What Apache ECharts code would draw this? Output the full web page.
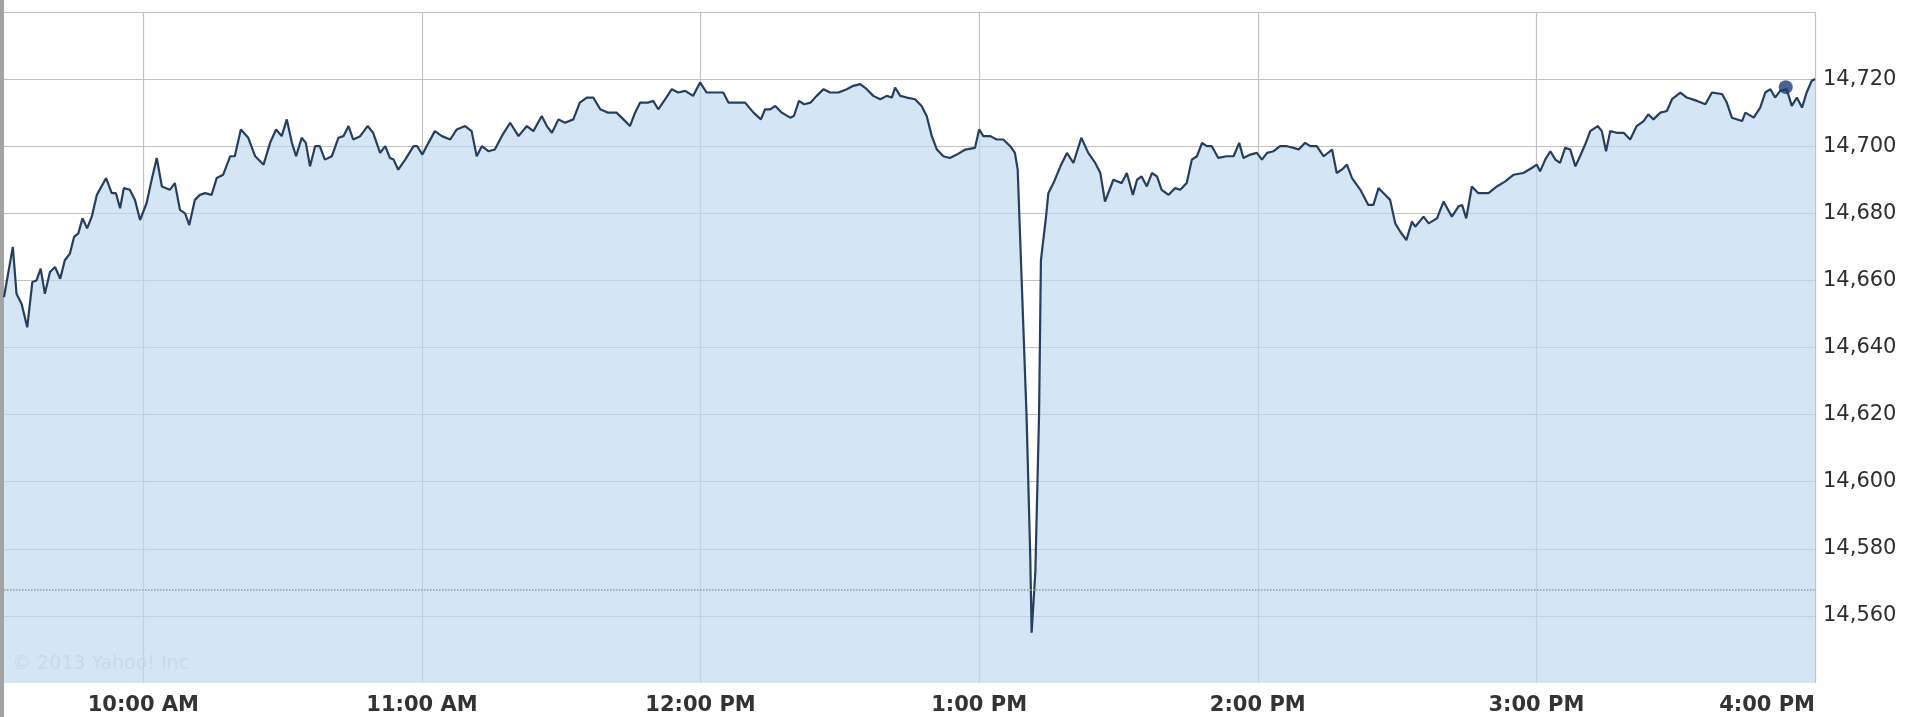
<!DOCTYPE html>
<html>
<head>
<meta charset="utf-8">
<script src="https://cdn.jsdelivr.net/npm/echarts@6/dist/echarts.min.js"></script>
<style>
html,body{margin:0;padding:0;background:#fff;}
#chart{width:1906px;height:717px;}
</style>
</head>
<body>
<div id="chart"></div>
<script>
// minutes after 9:30 AM
const minutes = [
0,1.9,2.7,3.8,5,6.1,7,7.9,8.8,9.9,11,12.1,13.1,14.2,15.1,16,16.9,17.9,18.9,20,
22,23.2,24.1,25,25.8,27.1,28.2,29.3,30.7,31.8,32.9,34,35.7,36.8,37.9,39,39.9,41.1,42.2,43.3,
44.7,45.8,47.2,48.7,49.7,51,52.6,54.1,55.9,57.3,58.6,59.8,60.9,62,62.9,64.1,65,65.9,67,68,
69.1,70.6,72,73.1,74.2,75.2,76.7,78.3,79.5,81,82.1,83.1,83.9,84.9,86.4,88.2,89,90.1,91.4,92.8,
94.3,96.1,97.5,99.3,100.7,101.8,102.9,104.3,105.7,107.2,109,110.8,112.6,114,115.8,116.9,118,119.4,120.8,122.6,
124,125.5,126.9,128.4,130.1,131.9,133.4,134.8,135.9,137,138.8,139.8,140.9,142.4,143.8,145.2,146.7,148.4,149.9,151.3,
153.1,154.9,156,157.8,159.6,161.4,163,163.9,165,166.1,167.5,169.3,170.1,171.2,172.3,173.7,175,176.5,177.9,179.7,
181.5,182.9,184.4,185.8,187.2,188.7,190.1,191.2,191.9,193,194.4,196.2,197.6,198.7,199.8,200.9,202.3,203.7,205.2,207,
209.1,210,210.9,212.4,213.8,215.2,216.7,217.7,218.3,219,220.2,221,221.3,222.1,222.9,223.3,224.4,224.9,226,227.5,
228.9,230.3,232,233.5,235,236.1,237.1,238.9,240.7,241.8,243.1,244,245,246.1,247.2,248.3,249.3,250.8,252.2,253.3,
254.7,255.8,256.9,258,259,260.1,261.5,263.3,264.8,266,266.9,268.4,269.8,270.9,272,273.4,274.8,276.3,277.7,278.8,
280.2,281.3,282.7,284.2,286,287,288.1,289.2,290.3,292.1,293.8,294.9,296,297.1,298.5,299.6,300.7,302,303.2,303.9,
305.7,306.8,308.6,310,311.8,313.2,314,314.9,316.1,317.5,319.7,321.5,323.3,325.1,327.2,329,330.1,330.8,331.9,333,
334.1,335.1,336.2,337.3,338.4,339.4,340.5,341.6,343.2,344.1,345,345.9,347.3,348.8,350.2,351.6,353.1,354.1,355.2,356.7,
358.1,359.2,361,362.4,364.6,366.4,367.8,370,371,372.1,374.3,375,376.8,378.2,379.3,380.4,381.4,382.5,383.9,385,
386.1,387.2,388.2,389.3,390
];
const prices = [
14655,14670,14656,14653,14646,14659.5,14660,14663.5,14656,14662.5,14664,14660.5,14666,14668,14673,14674,14678.5,14675.5,14679,14685.5,
14690.5,14686,14686,14681.5,14687.5,14687,14684,14678,14683,14690,14696.5,14688,14687,14689,14681,14680,14676.5,14684,14685.5,14686,
14685.5,14690.5,14691.5,14697,14697,14705,14702.5,14697,14694.5,14701,14705,14703,14708,14701,14697,14702.5,14701,14694,14700,14700,
14696,14697,14702.5,14703,14706,14702,14703,14706,14704,14698,14700,14696.5,14696,14693,14696,14700,14700,14697.5,14701,14704.5,
14703,14702,14705,14706,14704.5,14697,14700,14698.5,14699,14703,14707,14703,14706,14704.5,14709,14706,14704,14708,14707,14708,
14713,14714.5,14714.5,14711,14710,14710,14708,14706,14710,14713,14713,14713.5,14711,14714,14717,14716,14716.5,14715,14719,14716,
14716,14716,14713,14713,14713,14710,14708,14711,14711,14712,14710,14708.5,14709,14713.5,14712.5,14713,14715,14717,14716,14716,
14717,14718,14718.5,14717,14715,14714,14715,14714.5,14717.5,14715,14714.5,14714,14712,14709,14703,14699,14697,14696.5,14697.5,14699,
14699.5,14705,14703,14703,14702,14702,14700,14698,14693,14666,14620,14578,14555,14573,14620,14666,14679,14686,14689,14694,
14698,14695,14702.5,14698,14695,14692,14683.5,14690,14689,14692,14685.5,14690,14691,14688,14692,14691,14687,14685.5,14687.5,14687,
14689,14696,14697,14701,14700,14700,14696.5,14697,14697,14701,14696.5,14697.5,14698,14696,14698,14698.5,14700,14700,14699.5,14699,
14701,14700,14700,14697,14699,14692,14693,14694.5,14690.5,14687,14682.5,14682.5,14687.5,14686,14684,14677,14674.5,14672,14677.5,14676,
14679,14677,14678.5,14683.5,14679,14682,14682.5,14678.5,14688,14686,14686,14688,14689.5,14691.5,14692,14693.5,14694.5,14692.5,14696,14698.5,
14696,14695,14699.5,14699,14694,14697,14700.5,14704.5,14706,14704.5,14698.5,14704.5,14704,14704,14702,14706,14707.5,14709.5,14708,14710,
14710.5,14714,14716,14714.5,14713.5,14712.5,14716,14715.5,14713,14708.5,14707.5,14710,14708.5,14711.5,14716,14717,14714.5,14716.5,14717,14712,
14714.5,14711.5,14716,14719.5,14720
];
const previousClose = 14567.8;
const markerPoint = [383.7, 14717.6];
const xTickMinutes = [30, 90, 150, 210, 270, 330, 390];
const xTickLabels = ['10:00 AM', '11:00 AM', '12:00 PM', '1:00 PM', '2:00 PM', '3:00 PM', '4:00 PM'];
const yMin = 14540, yMax = 14740, yStep = 20;
const yLabelMin = 14560, yLabelMax = 14720;

const chart = echarts.init(document.getElementById('chart'), null, {renderer: 'canvas'});
const seriesData = minutes.map((m, i) => [m, prices[i]]);

chart.setOption({
  animation: false,
  backgroundColor: '#ffffff',
  grid: {left: 4, right: 91, top: 12, bottom: 34, containLabel: false},
  xAxis: {
    type: 'value', min: 0, max: 390,
    axisLine: {show: false},
    axisTick: {show: false, customValues: xTickMinutes},
    axisLabel: {
      customValues: xTickMinutes,
      formatter: v => xTickLabels[xTickMinutes.indexOf(v)] || '',
      fontFamily: 'DejaVu Sans', fontSize: 21, fontWeight: 'bold', color: '#333',
      margin: 12, alignMaxLabel: 'right'
    },
    splitLine: {show: true, lineStyle: {color: '#c2c2c2', width: 1.2}}
  },
  yAxis: {
    type: 'value', position: 'right', min: yMin, max: yMax, interval: yStep,
    axisLine: {show: false}, axisTick: {show: false},
    axisLabel: {
      formatter: v => (v < yLabelMin || v > yLabelMax) ? '' : v.toLocaleString('en-US'),
      fontFamily: 'DejaVu Sans', fontSize: 21, color: '#2e2e2e', margin: 8
    },
    splitLine: {show: true, showMinLine: false, lineStyle: {color: '#c2c2c2', width: 1.2}}
  },
  series: [
    {
      type: 'line', data: seriesData, showSymbol: false, smooth: false,
      lineStyle: {color: '#253f60', width: 2.2},
      areaStyle: {color: 'rgba(192,217,238,0.68)', opacity: 1, origin: 'start'},
      markLine: {
        silent: true, symbol: ['none', 'none'], label: {show: false},
        lineStyle: {color: '#9a9a9a', type: 'dotted', width: 1.5},
        data: [{yAxis: previousClose}]
      },
      z: 2
    },
    {
      type: 'scatter', data: [markerPoint], symbolSize: 14,
      itemStyle: {color: '#1a3f78'}, z: 3
    }
  ],
  graphic: [
    {type: 'rect', left: 0, top: 0, shape: {width: 4, height: 717}, style: {fill: '#a3a3a3'}},
    {type: 'text', left: 12, top: 655, style: {text: '© 2013 Yahoo! Inc', fill: 'rgba(150,150,150,0.35)', font: '19px "DejaVu Sans"'}}
  ]
});
</script>
</body>
</html>
